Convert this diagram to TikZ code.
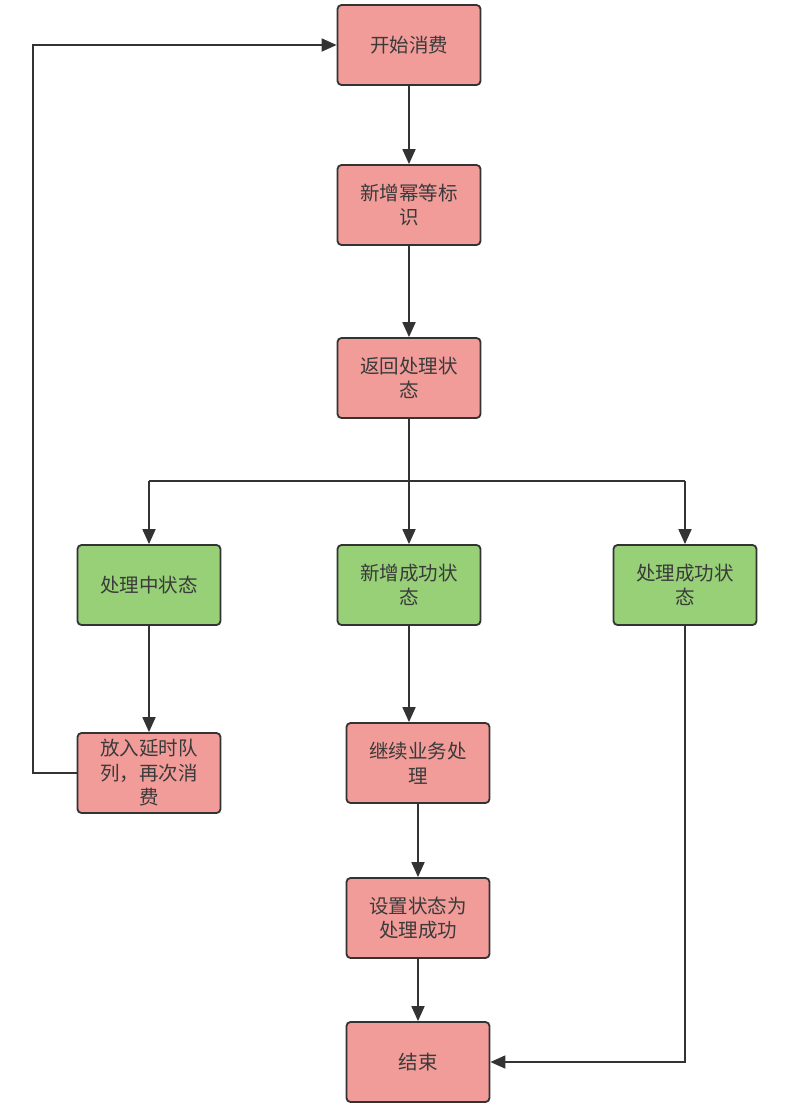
\documentclass[tikz,border=0pt]{standalone}
\usepackage{fontspec}
\newfontfamily\cjk{Noto Sans CJK SC}
\usetikzlibrary{arrows.meta}
\definecolor{pinkfill}{HTML}{F19C99}
\definecolor{greenfill}{HTML}{97D077}
\definecolor{edge}{HTML}{333333}
\definecolor{txt}{HTML}{3A3A3A}
\begin{document}
\begin{tikzpicture}[x=1pt,y=-1pt,
  box/.style={draw=edge, line width=1.8pt, rounded corners=4pt, minimum width=143pt, minimum height=80pt, inner sep=0pt, align=center, font=\cjk\fontsize{19.5}{24.5}\selectfont, text=txt},
  pinkbox/.style={box, fill=pinkfill},
  greenbox/.style={box, fill=greenfill},
  conn/.style={draw=edge, line width=1.8pt, -{Triangle[length=15pt,width=13pt]}},
  wire/.style={draw=edge, line width=1.8pt}]
\useasboundingbox[fill=white] (0,0) rectangle (790,1109);
\node[pinkbox] (start) at (409,45) {开始消费};
\node[pinkbox] (mark) at (409,205) {新增幂等标\\识};
\node[pinkbox] (ret) at (409,378) {返回处理状\\态};
\node[greenbox] (ing) at (149,585) {处理中状态};
\node[greenbox] (newok) at (409,585) {新增成功状\\态};
\node[greenbox] (done) at (685,585) {处理成功状\\态};
\node[pinkbox] (delay) at (149,773) {放入延时队\\列，再次消\\费};
\node[pinkbox] (cont) at (418,763) {继续业务处\\理};
\node[pinkbox] (setok) at (418,918) {设置状态为\\处理成功};
\node[pinkbox] (end) at (418,1062) {结束};
\coordinate (j) at (409,481);
\coordinate (jl) at (149,481);
\coordinate (jr) at (685,481);
\coordinate (lp) at (33,773);
\draw[conn] (start) -- (mark);
\draw[conn] (mark) -- (ret);
\draw[wire] (ret.south) -- (j);
\draw[wire] (jl) -- (jr);
\draw[conn] (jl) -- (ing.north);
\draw[conn] (j) -- (newok.north);
\draw[conn] (jr) -- (done.north);
\draw[conn] (ing) -- (delay);
\draw[conn] (newok.south) -- (newok.south |- cont.north);
\draw[conn] (cont) -- (setok);
\draw[conn] (setok) -- (end);
\draw[conn] (done.south) |- (end.east);
\draw[conn] (delay.west) -- (lp) |- (start.west);
\end{tikzpicture}
\end{document}
